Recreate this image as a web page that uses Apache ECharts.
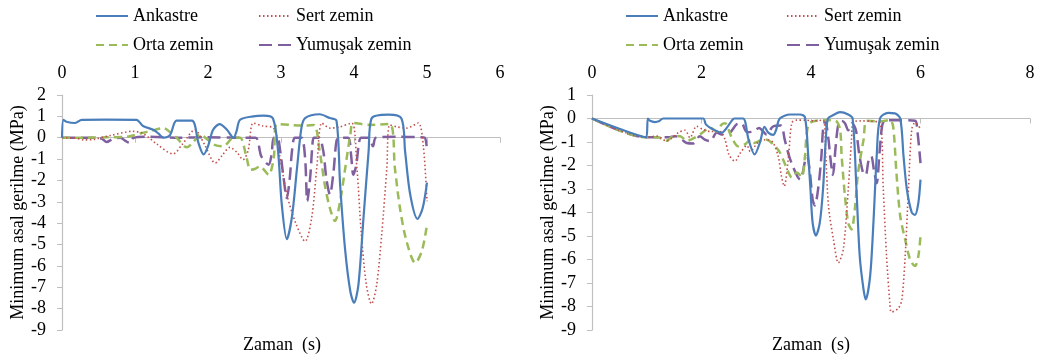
<!DOCTYPE html>
<html><head><meta charset="utf-8">
<script src="https://cdn.jsdelivr.net/npm/echarts/dist/echarts.min.js"></script>
<style>html,body{margin:0;padding:0;background:#fff}#c{width:1038px;height:362px}</style>
</head><body><div id="c"></div>
<script>
// ---------- data ----------
const seriesNames = ['Ankastre', 'Sert zemin', 'Orta zemin', 'Yumuşak zemin'];
const xTitle = 'Zaman  (s)';
const yTitle = 'Minimum asal gerilme (MPa)';
const leftX = { min: 0, max: 6, interval: 1 };
const leftY = { min: -9, max: 2, interval: 1 };
const rightX = { min: 0, max: 8, interval: 2 };
const rightY = { min: -9, max: 1, interval: 1 };

// Left chart [time s, stress MPa]
const leftAnkastre = [[0,0],[0.02,0.84],[0.06,0.75],[0.18,0.69],[0.27,0.84],[0.6,0.85],[1.02,0.84],[1.11,0.55],[1.25,0.37],[1.32,0.2],[1.39,0.0],[1.48,0.12],[1.57,0.8],[1.78,0.8],[1.87,-0.25],[1.94,-0.78],[2.0,-0.4],[2.07,0.37],[2.16,0.64],[2.26,0.37],[2.35,0.0],[2.39,0.3],[2.44,0.84],[2.62,1.0],[2.76,1.03],[2.89,0.9],[2.96,-0.64],[3.01,-3.1],[3.08,-4.75],[3.15,-3.7],[3.22,-1.4],[3.28,0.46],[3.33,0.92],[3.53,1.1],[3.67,0.92],[3.76,0.8],[3.81,-2.2],[3.88,-5.3],[3.95,-7.2],[4.0,-7.72],[4.06,-6.9],[4.13,-3.75],[4.2,-0.64],[4.24,0.9],[4.47,1.08],[4.65,0.9],[4.7,-0.64],[4.77,-2.66],[4.87,-3.8],[4.94,-3.3],[5.0,-2.1]];
const leftSert = [[0,0],[0.15,0.0],[0.3,-0.1],[0.43,-0.08],[0.66,0.1],[0.97,0.3],[1.11,0.2],[1.3,-0.3],[1.52,-0.76],[1.65,-0.3],[1.82,0.37],[1.95,-0.3],[2.1,-1.18],[2.2,-0.8],[2.3,-0.45],[2.4,-0.7],[2.48,-1.03],[2.55,-0.6],[2.62,0.69],[2.75,0.55],[2.9,0.45],[2.98,-0.8],[3.08,-2.66],[3.21,-4.07],[3.33,-4.85],[3.42,-3.75],[3.49,-1.42],[3.56,0.69],[3.67,0.45],[3.8,0.5],[3.97,0.69],[4.04,-1.42],[4.1,-4.5],[4.17,-6.9],[4.24,-7.78],[4.31,-6.9],[4.38,-4.5],[4.45,-1.42],[4.49,0.6],[4.6,0.5],[4.72,0.45],[4.88,0.69],[4.95,-0.4],[5.0,-2.97]];
const leftOrta = [[0,0],[0.3,0.0],[0.6,0.02],[0.9,0.05],[1.07,0.2],[1.2,0.3],[1.39,0.45],[1.5,0.2],[1.57,0],[1.71,-0.45],[1.8,-0.2],[1.89,0.15],[2.0,-0.1],[2.1,-0.35],[2.21,-0.4],[2.35,0],[2.44,0.0],[2.53,-0.95],[2.58,-1.5],[2.65,-1.45],[2.71,-1.34],[2.83,-1.73],[2.9,-0.95],[2.94,0.64],[3.12,0.6],[3.3,0.57],[3.45,0.6],[3.53,-0.64],[3.6,-2.2],[3.67,-3.3],[3.74,-3.9],[3.81,-2.97],[3.88,-1.42],[3.95,0.15],[3.99,0.69],[4.22,0.6],[4.49,0.64],[4.56,-1.42],[4.63,-3.3],[4.72,-4.85],[4.84,-5.86],[4.93,-5.3],[5.0,-4.07]];
const leftYumusak = [[0,0],[0.45,0],[0.55,-0.05],[0.61,-0.2],[0.7,-0.05],[0.8,0],[0.87,-0.15],[0.93,-0.25],[0.98,0.0],[1.2,0.05],[1.6,0.0],[2.0,0.02],[2.4,0.0],[2.65,0.0],[2.73,-0.87],[2.83,-1.26],[2.87,-0.8],[2.9,0],[2.95,0],[2.99,-0.64],[3.03,-1.73],[3.08,-2.82],[3.12,-1.9],[3.15,-0.64],[3.19,0],[3.28,0],[3.33,-0.95],[3.36,-2.97],[3.4,-1.85],[3.43,-0.35],[3.45,0],[3.52,0],[3.58,-0.64],[3.62,-1.88],[3.67,-2.66],[3.72,-1.57],[3.76,-0.15],[3.8,0],[3.92,0],[3.96,-0.8],[3.99,-1.73],[4.03,-1.3],[4.07,-0.2],[4.1,0],[4.2,0],[4.26,-0.4],[4.3,0],[4.6,0.05],[4.9,0.02],[4.97,0],[5.0,-0.64]];

// Right chart [time s, stress MPa]
const rightAnkastre = [[0,0],[0.99,-0.8],[1.02,0],[1.06,-0.1],[1.15,-0.15],[1.22,-0.12],[1.3,0],[2.03,0],[2.08,-0.25],[2.2,-0.45],[2.37,-0.6],[2.46,-0.4],[2.55,-0.1],[2.6,0],[2.76,0],[2.86,-0.9],[2.97,-1.53],[3.07,-1.0],[3.15,-0.35],[3.22,-0.6],[3.31,-0.7],[3.36,-0.5],[3.43,0],[3.62,0.17],[3.8,0.17],[3.89,0.05],[3.95,-1.6],[3.99,-3.0],[4.03,-4.44],[4.09,-4.98],[4.16,-4.44],[4.22,-3.0],[4.27,-0.9],[4.31,0],[4.41,0.15],[4.53,0.27],[4.68,0.17],[4.76,0],[4.83,-3.0],[4.89,-5.86],[4.96,-7.28],[5.0,-7.7],[5.08,-6.7],[5.14,-4.44],[5.2,-1.6],[5.26,0],[5.41,0.24],[5.53,0.22],[5.63,0],[5.69,-1.6],[5.75,-3.0],[5.84,-4.0],[5.9,-4.1],[5.96,-3.6],[6.0,-2.6]];
const rightSert = [[0,0],[0.99,-0.8],[1.18,-0.75],[1.36,-0.95],[1.58,-0.6],[1.7,-0.5],[1.79,-0.82],[1.91,-0.33],[2.03,-0.47],[2.16,-0.55],[2.34,-0.55],[2.43,-0.9],[2.5,-1.53],[2.61,-1.82],[2.7,-1.5],[2.83,-1.15],[2.89,-1.4],[3.04,-1.0],[3.19,-0.9],[3.3,-1.0],[3.4,-1.6],[3.46,-2.45],[3.51,-2.88],[3.59,-1.6],[3.65,-0.18],[3.74,-0.07],[3.89,-0.07],[4.05,-0.1],[4.22,-0.07],[4.27,-1.6],[4.32,-3.73],[4.41,-5.15],[4.5,-6.14],[4.59,-5.57],[4.68,-3.02],[4.74,-0.9],[4.77,-0.18],[4.9,-0.1],[5.1,-0.12],[5.26,-0.18],[5.32,-3.0],[5.38,-5.86],[5.44,-7.84],[5.47,-8.24],[5.6,-8.06],[5.66,-7.7],[5.72,-5.86],[5.78,-3.0],[5.84,-0.47],[5.9,-0.18],[5.96,-0.3],[6.0,-0.45]];
const rightOrta = [[0,0],[0.99,-0.8],[1.2,-0.8],[1.36,-0.95],[1.49,-0.75],[1.61,-0.75],[1.73,-0.95],[1.85,-0.85],[1.97,-0.68],[2.16,-0.4],[2.28,-0.55],[2.37,-0.25],[2.43,-0.2],[2.55,-0.8],[2.67,-1.18],[2.79,-1.1],[2.9,-0.9],[2.95,-1.04],[3.07,-0.95],[3.19,-0.9],[3.31,-1.1],[3.42,-1.4],[3.49,-1.74],[3.59,-2.3],[3.65,-2.52],[3.74,-2.3],[3.83,-2.48],[3.89,-1.6],[3.92,-0.7],[3.98,-0.18],[4.29,-0.07],[4.45,-0.1],[4.53,-0.47],[4.56,-1.6],[4.62,-3.3],[4.68,-4.44],[4.74,-4.72],[4.8,-3.87],[4.86,-2.3],[4.96,-0.9],[5.02,-0.1],[5.25,-0.12],[5.44,-0.07],[5.5,-0.33],[5.56,-2.3],[5.63,-4.16],[5.72,-5.15],[5.81,-6.0],[5.9,-6.28],[5.96,-5.86],[6.0,-5.0]];
const rightYumusak = [[0,0],[0.99,-0.8],[1.2,-0.8],[1.4,-0.8],[1.52,-0.75],[1.64,-0.9],[1.73,-1.04],[1.85,-1.06],[1.97,-0.75],[2.06,-0.9],[2.16,-0.96],[2.28,-0.6],[2.37,-0.68],[2.52,-0.6],[2.64,-0.25],[2.73,-0.2],[2.83,-0.58],[2.95,-0.55],[3.05,-0.4],[3.19,-0.68],[3.3,-0.35],[3.45,-0.3],[3.52,-0.9],[3.6,-1.6],[3.68,-2.1],[3.76,-2.5],[3.8,-2.6],[3.85,-2.3],[3.89,-1.82],[3.93,-1.6],[3.98,-2.3],[4.03,-3.45],[4.07,-3.7],[4.13,-3.0],[4.19,-1.6],[4.22,-0.47],[4.26,-0.1],[4.32,-0.9],[4.35,-1.6],[4.4,-2.4],[4.45,-1.2],[4.5,-0.25],[4.56,-0.1],[4.62,-0.2],[4.68,-0.5],[4.75,-0.2],[4.82,-0.5],[4.88,-1.5],[4.95,-2.3],[5.0,-2.4],[5.05,-1.8],[5.1,-1.6],[5.15,-2.2],[5.2,-2.75],[5.25,-1.5],[5.3,-0.3],[5.35,-0.1],[5.6,-0.07],[5.9,-0.1],[5.94,-0.47],[6.0,-1.9]];

// ---------- style ----------
const FONT = '"Liberation Serif", "Times New Roman", serif';
const styles = [
  { color: '#4a7ebb', width: 2.2, type: 'solid' },
  { color: '#c0504d', width: 1.6, type: [1.5, 2.5] },
  { color: '#9bbb59', width: 2.5, type: [8, 5] },
  { color: '#7f5fa0', width: 2.5, type: [13, 6] }
];
const grids = [
  { left: 62, top: 95, width: 438, height: 235 },
  { left: 592, top: 95, width: 438, height: 235 }
];
const chart = echarts.init(document.getElementById('c'), null, { renderer: 'canvas' });

function xAxes(gi, sc) {
  return [
    { gridIndex: gi, type: 'value', position: 'top', min: sc.min, max: sc.max, interval: sc.interval,
      axisLine: { show: false, onZero: false }, axisTick: { show: false }, splitLine: { show: false },
      axisLabel: { margin: 13, color: '#000', fontFamily: FONT, fontSize: 18 } },
    { gridIndex: gi, type: 'value', position: 'bottom', min: sc.min, max: sc.max, interval: sc.interval,
      axisLine: { show: true, onZero: true, lineStyle: { color: '#bfbfbf', width: 1.2 } },
      axisTick: { show: true, length: 5, lineStyle: { color: '#bfbfbf' } },
      axisLabel: { show: false }, splitLine: { show: false } }
  ];
}
function yAxis(gi, sc) {
  return { gridIndex: gi, type: 'value', min: sc.min, max: sc.max, interval: sc.interval,
    name: yTitle, nameLocation: 'middle', nameRotate: 90, nameGap: 34,
    nameTextStyle: { color: '#000', fontFamily: FONT, fontSize: 18 },
    axisLine: { show: true, onZero: false, lineStyle: { color: '#bfbfbf', width: 1.2 } },
    axisTick: { show: true, length: 5, lineStyle: { color: '#bfbfbf' } },
    axisLabel: { margin: 16, color: '#000', fontFamily: FONT, fontSize: 18 },
    splitLine: { show: false } };
}
function mkSeries(datasets, xIdx, yIdx) {
  return datasets.map((d, i) => ({
    name: seriesNames[i], type: 'line', xAxisIndex: xIdx, yAxisIndex: yIdx,
    data: d, symbol: 'none', showSymbol: false, smooth: 0.3,
    lineStyle: { color: styles[i].color, width: styles[i].width, type: styles[i].type },
    itemStyle: { color: styles[i].color }, z: 10 - i
  }));
}
function legend(name, left, top) {
  return { data: [name], left: left, top: top, padding: 0, itemWidth: 32, itemHeight: 14,
    itemStyle: { opacity: 0 },
    textStyle: { color: '#000', fontFamily: FONT, fontSize: 18 }, selectedMode: false };
}
const legCols = [[95, 258], [625, 786]];
const legRows = [7, 36];
const legends = [];
legCols.forEach(cols => {
  legends.push(legend(seriesNames[0], cols[0], legRows[0]));
  legends.push(legend(seriesNames[1], cols[1], legRows[0]));
  legends.push(legend(seriesNames[2], cols[0], legRows[1]));
  legends.push(legend(seriesNames[3], cols[1], legRows[1]));
});

chart.setOption({
  animation: false,
  backgroundColor: '#fff',
  grid: grids,
  legend: legends,
  xAxis: [...xAxes(0, leftX), ...xAxes(1, rightX)],
  yAxis: [yAxis(0, leftY), yAxis(1, rightY)],
  graphic: [
    { type: 'text', x: 282, y: 345, style: { text: xTitle, font: '18px ' + FONT, fill: '#000', align: 'center', verticalAlign: 'middle' } },
    { type: 'text', x: 811, y: 345, style: { text: xTitle, font: '18px ' + FONT, fill: '#000', align: 'center', verticalAlign: 'middle' } }
  ],
  series: [
    ...mkSeries([leftAnkastre, leftSert, leftOrta, leftYumusak], 1, 0),
    ...mkSeries([rightAnkastre, rightSert, rightOrta, rightYumusak], 3, 1)
  ]
});
</script></body></html>
